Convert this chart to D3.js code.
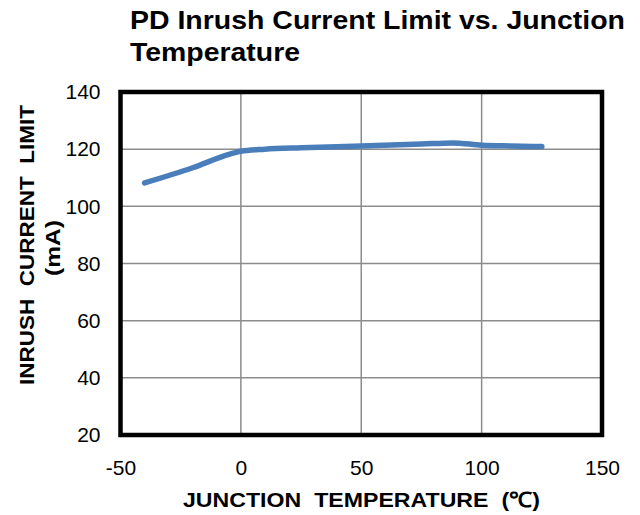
<!DOCTYPE html>
<html>
<head>
<meta charset="utf-8">
<script src="https://cdn.jsdelivr.net/npm/d3@7"></script>
<style>
  body { margin: 0; background: #fff; }
  svg text { font-family: Arial, "Liberation Sans", sans-serif; }
</style>
</head>
<body>
<svg id="chart" width="640" height="515"></svg>
<script>
// data
const temps = [-40, -20, -5, 0, 10, 25, 50, 75, 88, 100, 112, 125];
const limits = [108.2, 113.5, 118.2, 119.3, 120.0, 120.5, 121.1, 121.8, 122.2, 121.4, 121.1, 120.9];
const xTicks = [-50, 0, 50, 100, 150];
const yTicks = [20, 40, 60, 80, 100, 120, 140];
const titleLines = ["PD Inrush Current Limit vs. Junction", "Temperature"];
const yTitleLines = ["INRUSH CURRENT LIMIT", "(mA)"];
const xTitle = "JUNCTION TEMPERATURE (\u2103)";

const svg = d3.select("#chart");
const margin = { top: 92, right: 38, bottom: 80, left: 120.5 };
const width = 640 - margin.left - margin.right;
const height = 515 - margin.top - margin.bottom;

const x = d3.scaleLinear().domain([-50, 150]).range([0, width]);
const y = d3.scaleLinear().domain([20, 140]).range([height, 0]);

const g = svg.append("g").attr("transform", `translate(${margin.left},${margin.top})`);

// Gridlines
g.append("g")
  .selectAll("line")
  .data(xTicks)
  .enter()
  .append("line")
  .attr("x1", (d) => x(d)).attr("x2", (d) => x(d))
  .attr("y1", 0).attr("y2", height)
  .attr("stroke", "#8c8c8c").attr("stroke-width", 1.5);

g.append("g")
  .selectAll("line")
  .data(yTicks)
  .enter()
  .append("line")
  .attr("x1", 0).attr("x2", width)
  .attr("y1", (d) => y(d)).attr("y2", (d) => y(d))
  .attr("stroke", "#8c8c8c").attr("stroke-width", 1.5);

// Axes (labels only)
const xAxis = g.append("g")
  .attr("transform", `translate(0,${height})`)
  .call(d3.axisBottom(x).tickValues(xTicks).tickFormat((d) => String(d)).tickSize(0).tickPadding(25));
xAxis.select(".domain").remove();
xAxis.selectAll("text").attr("font-size", 21).attr("fill", "#000")
  .style("font-family", "Arial, 'Liberation Sans', sans-serif");

const yAxis = g.append("g")
  .call(d3.axisLeft(y).tickValues(yTicks).tickFormat((d) => String(d)).tickSize(0).tickPadding(20));
yAxis.select(".domain").remove();
yAxis.selectAll("text").attr("font-size", 21).attr("fill", "#000")
  .style("font-family", "Arial, 'Liberation Sans', sans-serif");

// Series line
const line = d3.line()
  .x((d, i) => x(temps[i]))
  .y((d) => y(d))
  .curve(d3.curveMonotoneX);

g.append("path")
  .datum(limits)
  .attr("fill", "none")
  .attr("stroke", "#4a7ebb")
  .attr("stroke-width", 5.5)
  .attr("stroke-linecap", "round")
  .attr("stroke-linejoin", "round")
  .attr("d", line);

// Frame
g.append("rect")
  .attr("x", 0).attr("y", 0)
  .attr("width", width).attr("height", height)
  .attr("fill", "none")
  .attr("stroke", "#000")
  .attr("stroke-width", 4.5);

// Title
const titleLen = [495, 170];
svg.append("g")
  .selectAll("text")
  .data(titleLines)
  .enter()
  .append("text")
  .attr("x", 130)
  .attr("y", (d, i) => (i === 0 ? 28.5 : 61))
  .attr("font-size", 25).attr("font-weight", "bold")
  .attr("textLength", (d, i) => titleLen[i])
  .attr("lengthAdjust", "spacingAndGlyphs")
  .text((d) => d);

// X axis title
svg.append("text")
  .attr("x", 183).attr("y", 507)
  .attr("font-size", 21).attr("font-weight", "bold")
  .attr("word-spacing", 6)
  .attr("textLength", 357)
  .attr("lengthAdjust", "spacingAndGlyphs")
  .text(xTitle);

// Y axis title
const yLen = [280, 56];
const yPos = [33.5, 60];
svg.append("g")
  .selectAll("text")
  .data(yTitleLines)
  .enter()
  .append("text")
  .attr("transform", (d, i) => `translate(${yPos[i]},${i === 0 ? 385 : 276}) rotate(-90)`)
  .attr("font-size", 21).attr("font-weight", "bold")
  .attr("word-spacing", 6)
  .attr("textLength", (d, i) => yLen[i])
  .attr("lengthAdjust", "spacingAndGlyphs")
  .text((d) => d);
</script>
</body>
</html>
